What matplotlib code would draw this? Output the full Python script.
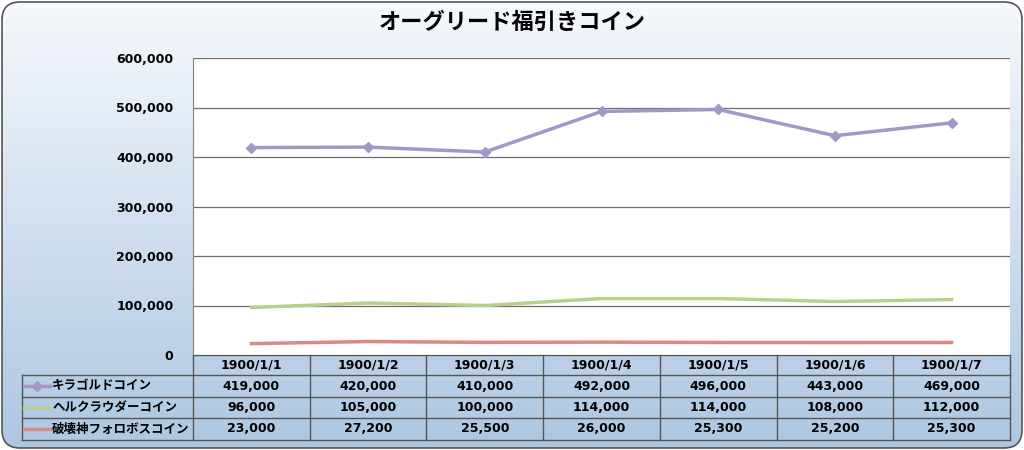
import numpy as np
import matplotlib
matplotlib.use('Agg')
import matplotlib.pyplot as plt
from matplotlib.patches import FancyBboxPatch
from matplotlib.ticker import FuncFormatter

plt.rcParams['font.family'] = ['Noto Sans CJK JP', 'DejaVu Sans']

dates = ['1900/1/1', '1900/1/2', '1900/1/3', '1900/1/4', '1900/1/5', '1900/1/6', '1900/1/7']
names = ['キラゴルドコイン', 'ヘルクラウダーコイン', '破壊神フォロボスコイン']
kira = [419000, 420000, 410000, 492000, 496000, 443000, 469000]
herk = [96000, 105000, 100000, 114000, 114000, 108000, 112000]
hakai = [23000, 27200, 25500, 26000, 25300, 25200, 25300]
colors = ['#a497c8', '#b8d08e', '#da8a86']
numfont = ['DejaVu Sans']

W, H = 1024, 450
fig = plt.figure(figsize=(W / 100, H / 100), dpi=100)

# background gradient + rounded frame
bg = fig.add_axes([0, 0, 1, 1])
bg.set_xlim(0, W)
bg.set_ylim(H, 0)
bg.axis('off')
top = np.array([0.965, 0.975, 0.99])
bot = np.array([0.68, 0.78, 0.885])
t = np.linspace(0, 1, 256)[:, None]
grad = (top + (bot - top) * t)[:, None, :]
im = bg.imshow(grad, extent=[2, W - 2, H - 2, 2], aspect='auto', zorder=0)
frame = FancyBboxPatch((2, 2), W - 4, H - 4, boxstyle='round,pad=0,rounding_size=18',
                       fc='none', ec='#555555', lw=1.2, zorder=2)
bg.add_patch(frame)
im.set_clip_path(frame)

bg.text(512, 22, 'オーグリード福引きコイン', ha='center', va='center',
        fontsize=16, fontweight='bold', color='black')

# plot area
x0, x1, y0, y1 = 193, 1010, 58, 355
ax = fig.add_axes([x0 / W, (H - y1) / H, (x1 - x0) / W, (y1 - y0) / H])
ax.set_facecolor('white')
idx = np.arange(len(dates))
ax.plot(idx, kira, color=colors[0], lw=2.5, marker='D', ms=5, zorder=3)
ax.plot(idx, herk, color=colors[1], lw=2.5, zorder=3)
ax.plot(idx, hakai, color=colors[2], lw=2.5, zorder=3)
ax.set_xlim(-0.5, len(dates) - 0.5)
ax.set_ylim(0, 600000)
ax.set_yticks(np.arange(0, 600001, 100000))
ax.yaxis.set_major_formatter(FuncFormatter(lambda v, p: f'{int(v):,}'))
ax.grid(axis='y', color='#6f6f6f', lw=0.9)
ax.set_axisbelow(True)
ax.set_xticks([])
ax.tick_params(axis='y', length=0, pad=14, labelsize=9)
for lbl in ax.get_yticklabels():
    lbl.set_family(numfont)
    lbl.set_fontweight('bold')
for s in ['top', 'right']:
    ax.spines[s].set_visible(False)
ax.spines['left'].set_color('#808080')
ax.spines['bottom'].set_visible(False)

# data table
rows = [355, 375, 397, 418, 440]
cols = np.linspace(x0, x1, len(dates) + 1)
lc = '#555555'
for y in rows:
    bg.plot([x0 if y == rows[0] else 22, x1], [y, y], color=lc, lw=1, zorder=3)
for x in cols:
    bg.plot([x, x], [rows[0], rows[-1]], color=lc, lw=1, zorder=3)
bg.plot([22, 22], [rows[1], rows[-1]], color=lc, lw=1, zorder=3)
for i, d in enumerate(dates):
    cx = (cols[i] + cols[i + 1]) / 2
    bg.text(cx, (rows[0] + rows[1]) / 2, d, ha='center', va='center', fontsize=9,
            family=numfont, fontweight='bold', zorder=4)
for r, (nm, vals, c) in enumerate(zip(names, [kira, herk, hakai], colors)):
    cy = (rows[r + 1] + rows[r + 2]) / 2
    bg.plot([24, 50], [cy, cy], color=c, lw=2.5, zorder=4)
    if r == 0:
        bg.plot([37], [cy], marker='D', ms=5, color=c, zorder=4)
    bg.text(52, cy, nm, ha='left', va='center', fontsize=9, fontweight='bold', zorder=4)
    for i, v in enumerate(vals):
        cx = (cols[i] + cols[i + 1]) / 2
        bg.text(cx, cy, f'{v:,}', ha='center', va='center', fontsize=9,
                family=numfont, fontweight='bold', zorder=4)

fig.savefig('out.png', dpi=100)
